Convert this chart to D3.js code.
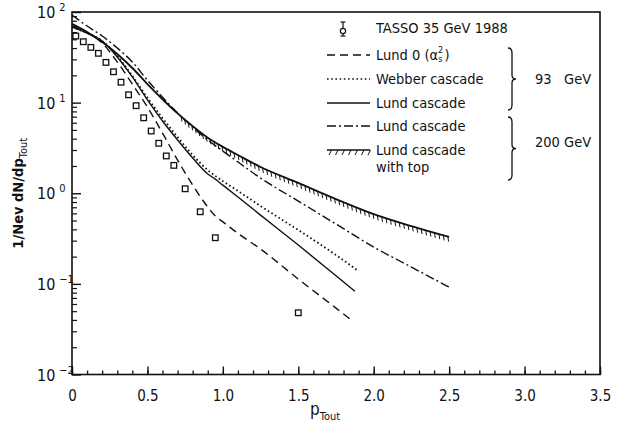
<!DOCTYPE html>
<html>
<head>
<meta charset="utf-8">
<script src="https://cdn.jsdelivr.net/npm/d3@7"></script>
<style>
  body { margin: 0; background: #fff; }
  svg { display: block; }
  text { font-family: "DejaVu Sans Condensed", "Liberation Sans Narrow", "DejaVu Sans", sans-serif; fill: #111; }
</style>
</head>
<body>
<svg width="621" height="430"></svg>
<script>
// TASSO 35 GeV data points
const tassoX = [0.025, 0.075, 0.125, 0.175, 0.225, 0.275, 0.325, 0.375, 0.425, 0.475, 0.525, 0.575, 0.625, 0.675, 0.75, 0.85, 0.95, 1.5];
const tassoY = [54.3, 47.0, 40.7, 35.0, 27.8, 21.9, 16.8, 12.2, 9.25, 6.8, 4.86, 3.56, 2.58, 2.03, 1.12, 0.625, 0.323, 0.048];

// 93 GeV curves
const lund0X = [0, 0.1, 0.2, 0.3, 0.4, 0.5, 0.6, 0.7, 0.8, 0.9, 0.95, 1.0, 1.1, 1.25, 1.5, 1.75, 1.85];
const lund0Y = [70, 59, 45.5, 28.1, 16.0, 8.94, 4.61, 2.32, 1.23, 0.705, 0.56, 0.483, 0.361, 0.242, 0.113, 0.054, 0.040];

const webberX = [0, 0.1, 0.2, 0.3, 0.4, 0.5, 0.6, 0.7, 0.8, 0.9, 1.0, 1.1, 1.25, 1.5, 1.75, 1.9];
const webberY = [68.2, 58.6, 47.8, 32.7, 19.7, 11.3, 6.76, 4.17, 2.64, 1.80, 1.36, 1.06, 0.722, 0.393, 0.208, 0.138];

const lund93X = [0, 0.1, 0.2, 0.3, 0.4, 0.5, 0.6, 0.7, 0.8, 0.9, 0.95, 1.0, 1.1, 1.25, 1.5, 1.75, 1.875];
const lund93Y = [68.2, 58.6, 47.8, 31.9, 19.2, 10.7, 6.27, 3.87, 2.45, 1.63, 1.43, 1.23, 0.908, 0.574, 0.268, 0.123, 0.083];

// 200 GeV curves
const lund200X = [0, 0.1, 0.2, 0.3, 0.4, 0.5, 0.6, 0.7, 0.8, 0.9, 1.0, 1.1, 1.25, 1.5, 1.75, 2.0, 2.25, 2.5];
const lund200Y = [92.6, 70, 54.3, 40.1, 28.1, 17.7, 11.5, 7.68, 5.38, 3.87, 2.92, 2.21, 1.47, 0.82, 0.457, 0.255, 0.153, 0.092];

const topX = [0, 0.1, 0.2, 0.3, 0.4, 0.5, 0.6, 0.7, 0.8, 0.9, 1.0, 1.1, 1.25, 1.5, 1.75, 2.0, 2.25, 2.5];
const topY = [73.9, 60, 46.6, 34.4, 24.1, 16.0, 10.9, 7.6, 5.5, 4.1, 3.25, 2.64, 1.95, 1.30, 0.863, 0.589, 0.434, 0.329];

// axis ticks
const xTicks = [0, 0.5, 1.0, 1.5, 2.0, 2.5, 3.0, 3.5];
const xTickLabels = ['0', '0.5', '1.0', '1.5', '2.0', '2.5', '3.0', '3.5'];
const yExponents = [2, 1, 0, -1, -2];

const svg = d3.select('svg');
const margin = { top: 12, right: 21, bottom: 55.5, left: 72 };
const width = 621, height = 430;

const x = d3.scaleLinear().domain([0, 3.5]).range([margin.left, width - margin.right]);
const y = d3.scaleLog().domain([1e-2, 1e2]).range([height - margin.bottom, margin.top]);

const zip = (xs, ys) => xs.map((v, i) => [v, ys[i]]);
const line = d3.line().x(d => x(d[0])).y(d => y(d[1])).curve(d3.curveMonotoneX);

// frame
svg.append('rect')
  .attr('x', x(0)).attr('y', y(100))
  .attr('width', x(3.5) - x(0)).attr('height', y(0.01) - y(100))
  .attr('fill', 'none').attr('stroke', '#111').attr('stroke-width', 1.6);

// x axis ticks (inward)
const minorX = d3.range(0, 3.51, 0.1).map(v => +v.toFixed(2));
svg.append('g').attr('transform', `translate(0,${y(0.01)})`)
  .call(d3.axisBottom(x).tickValues(minorX).tickSize(-4).tickFormat(''))
  .call(g => g.select('.domain').remove())
  .selectAll('line').attr('stroke', '#111').attr('stroke-width', 1.3);
svg.append('g').attr('transform', `translate(0,${y(0.01)})`)
  .call(d3.axisBottom(x).tickValues(xTicks).tickSize(-8).tickPadding(16)
    .tickFormat((d, i) => xTickLabels[i]))
  .call(g => g.select('.domain').remove())
  .call(g => g.selectAll('line').attr('stroke', '#111').attr('stroke-width', 1.4))
  .call(g => g.selectAll('text').attr('font-size', 15).attr('fill', '#111')
    .style('font-family', '"DejaVu Sans Condensed", sans-serif'));

// y axis ticks (inward)
const minorY = [];
yExponents.slice(1).forEach(e => { for (let k = 2; k < 10; k++) minorY.push(k * Math.pow(10, e)); });
svg.append('g').attr('transform', `translate(${x(0)},0)`)
  .call(d3.axisLeft(y).tickValues(minorY).tickSize(-5).tickFormat(''))
  .call(g => g.select('.domain').remove())
  .selectAll('line').attr('stroke', '#111').attr('stroke-width', 1.2);
svg.append('g').attr('transform', `translate(${x(0)},0)`)
  .call(d3.axisLeft(y).tickValues(yExponents.map(e => Math.pow(10, e))).tickSize(-9).tickFormat(''))
  .call(g => g.select('.domain').remove())
  .selectAll('line').attr('stroke', '#111').attr('stroke-width', 1.4);

// y tick labels 10^n
const yl = svg.append('g').selectAll('text').data(yExponents).enter().append('text')
  .attr('x', 37).attr('y', d => y(Math.pow(10, d)) + 6)
  .attr('font-size', 16);
yl.append('tspan').text('10');
yl.append('tspan').attr('dx', 4).attr('dy', -7).attr('font-size', 11).text(d => d >= 0 ? String(d) : '\u2212' + Math.abs(d));

// axis titles
const xt = svg.append('text').attr('x', 310).attr('y', 415).attr('font-size', 17);
xt.append('tspan').text('p');
xt.append('tspan').attr('dy', 5).attr('font-size', 11).text('Tout');

const yt = svg.append('text')
  .attr('transform', `translate(23,${y(1)}) rotate(-90)`)
  .attr('text-anchor', 'middle').attr('font-size', 14.5).attr('font-weight', 'bold');
yt.append('tspan').text('1/Nev dN/dp');
yt.append('tspan').attr('dy', 4).attr('font-size', 11).attr('font-weight', 'normal').text('Tout');

// curves
const curves = [
  { xs: lund0X, ys: lund0Y, dash: '8,5' },
  { xs: webberX, ys: webberY, dash: '1.6,2.6' },
  { xs: lund93X, ys: lund93Y, dash: null },
  { xs: lund200X, ys: lund200Y, dash: '9,3,2,3' }
];
curves.forEach(c => {
  svg.append('path').datum(zip(c.xs, c.ys))
    .attr('d', line)
    .attr('fill', 'none').attr('stroke', '#111')
    .attr('stroke-width', c.dash === '1.6,2.6' ? 1.8 : 1.4)
    .attr('stroke-dasharray', c.dash);
});

// "with top" curve plus hatching below it
const topPath = svg.append('path').datum(zip(topX, topY)).attr('d', line)
  .attr('fill', 'none').attr('stroke', '#111').attr('stroke-width', 1.8);
const node = topPath.node();
const total = node.getTotalLength();
let start = 0;
while (start < total && node.getPointAtLength(start).x < x(0.72)) start += 1;
const hatch = [];
for (let l = start; l <= total; l += 4.6) hatch.push(node.getPointAtLength(l));
svg.append('g').selectAll('line').data(hatch).enter().append('line')
  .attr('x1', d => d.x).attr('y1', d => d.y)
  .attr('x2', d => d.x + 0.8).attr('y2', d => d.y + 5)
  .attr('stroke', '#111').attr('stroke-width', 1);

// data points
svg.append('g').selectAll('rect').data(zip(tassoX, tassoY)).enter().append('rect')
  .attr('x', d => x(d[0]) - 2.8).attr('y', d => y(d[1]) - 2.8)
  .attr('width', 5.6).attr('height', 5.6)
  .attr('fill', '#fff').attr('stroke', '#111').attr('stroke-width', 1.3);

// legend
const lg = svg.append('g');
const lx0 = 327, lx1 = 370, tx = 376;
// TASSO symbol
lg.append('line').attr('x1', 343).attr('x2', 343).attr('y1', 22).attr('y2', 36).attr('stroke', '#111').attr('stroke-width', 1.2);
lg.append('line').attr('x1', 340.5).attr('x2', 345.5).attr('y1', 22).attr('y2', 22).attr('stroke', '#111').attr('stroke-width', 1.2);
lg.append('line').attr('x1', 340.5).attr('x2', 345.5).attr('y1', 36).attr('y2', 36).attr('stroke', '#111').attr('stroke-width', 1.2);
lg.append('circle').attr('cx', 343).attr('cy', 31).attr('r', 2.6).attr('fill', '#fff').attr('stroke', '#111').attr('stroke-width', 1.2);
lg.append('text').attr('x', tx).attr('y', 28).attr('dominant-baseline', 'central').attr('font-size', 14.5).text('TASSO 35 GeV 1988');

const legendRows = [
  { yy: 55, dash: '8,5', label: null },
  { yy: 79, dash: '1.6,2.6', label: 'Webber cascade' },
  { yy: 103, dash: null, label: 'Lund cascade' },
  { yy: 126, dash: '9,3,2,3', label: 'Lund cascade' },
  { yy: 150, dash: null, label: 'Lund cascade' }
];
legendRows.forEach(r => {
  lg.append('line').attr('x1', lx0).attr('x2', lx1).attr('y1', r.yy).attr('y2', r.yy)
    .attr('stroke', '#111').attr('stroke-width', 1.4).attr('stroke-dasharray', r.dash);
  if (r.label) lg.append('text').attr('x', tx).attr('y', r.yy).attr('dominant-baseline', 'central')
    .attr('font-size', 14.5).text(r.label);
});
const l0 = lg.append('text').attr('x', tx).attr('y', 55).attr('dominant-baseline', 'central').attr('font-size', 14.5);
l0.append('tspan').text('Lund 0 (\u03b1');
l0.append('tspan').attr('dy', -5).attr('font-size', 9).text('2');
l0.append('tspan').attr('dx', -5).attr('dy', 9).attr('font-size', 9).text('s');
l0.append('tspan').attr('dx', 2).attr('dy', -4).text(')');
lg.append('text').attr('x', tx).attr('y', 167).attr('dominant-baseline', 'central').attr('font-size', 14.5).text('with top');
// legend hatch ticks
d3.range(lx0 + 3, lx1, 6.5).forEach(px => {
  lg.append('line').attr('x1', px + 1.5).attr('y1', 150).attr('x2', px - 1).attr('y2', 155)
    .attr('stroke', '#111').attr('stroke-width', 1);
});

// braces
function brace(xb, y0, y1) {
  const ym = (y0 + y1) / 2;
  return `M${xb},${y0} q4,0 4,5 L${xb + 4},${ym - 4} q0,4 4,4 q-4,0 -4,4 L${xb + 4},${y1 - 5} q0,5 -4,5`;
}
lg.append('path').attr('d', brace(508, 48, 110)).attr('fill', 'none').attr('stroke', '#111').attr('stroke-width', 1.3);
lg.append('path').attr('d', brace(508, 117, 180)).attr('fill', 'none').attr('stroke', '#111').attr('stroke-width', 1.3);
lg.append('text').attr('x', 535).attr('y', 79).attr('dominant-baseline', 'central').attr('font-size', 14.5)
  .style('white-space', 'pre').text('93   GeV');
lg.append('text').attr('x', 535).attr('y', 142).attr('dominant-baseline', 'central').attr('font-size', 14.5).text('200 GeV');
</script>
</body>
</html>
